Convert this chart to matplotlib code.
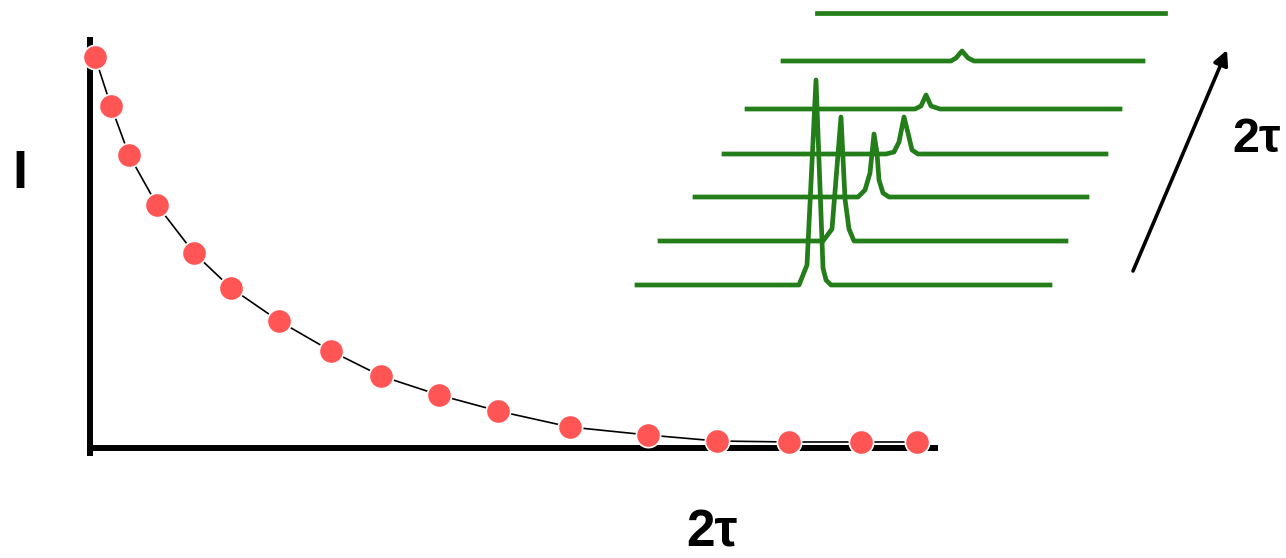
import matplotlib
matplotlib.use('Agg')
import matplotlib.pyplot as plt

# decay points (x = 2tau, y = intensity)
tau2 = [5, 21, 39, 67, 104, 141, 189, 241, 291, 349, 408, 480, 558, 627, 699, 771, 827]
intensity = [391, 342, 293, 243, 195, 160, 127, 97, 72, 53, 37, 21, 13, 7, 6, 6, 6]

# stacked spectra: baseline level of each trace, and the x / height points of each trace
spec_base = [10, 54, 98, 141, 186, 234, 282]
spec_x = [
    [637, 799, 807, 816, 823, 826, 831, 1050],
    [660, 823, 832, 841, 845, 849, 854, 1066],
    [695, 858, 865, 870, 874, 877, 879, 883, 889, 1087],
    [724, 886, 894, 899, 904, 908, 912, 918, 1106],
    [747, 915, 921, 926, 931, 940, 1120],
    [783, 951, 956, 962, 968, 974, 1143],
    [817, 1165],
]
spec_h = [
    [0, 0, 20, 205, 17, 5, 0, 0],
    [0, 0, 12, 124, 42, 12, 0, 0],
    [0, 0, 7, 24, 63, 44, 17, 4, 0, 0],
    [0, 0, 2, 12, 37, 21, 4, 0, 0],
    [0, 0, 3, 14, 3, 0, 0],
    [0, 0, 3, 10, 3, 0, 0],
    [0, 0],
]

W, H = 1286, 558
fig = plt.figure(figsize=(W / 100, H / 100), dpi=100)

# main decay plot
ax = fig.add_axes([90 / W, (H - 448) / H, 845 / W, 408 / H])
ax.plot(tau2, intensity, color='black', lw=1.2, zorder=2, clip_on=False)
ax.plot(tau2, intensity, 'o', color='#FF5555', markersize=17.5,
        markeredgecolor='white', markeredgewidth=1.2, zorder=3, clip_on=False)
ax.set_xlim(0, 845)
ax.set_ylim(0, 408)
for s in ['top', 'right']:
    ax.spines[s].set_visible(False)
ax.spines['left'].set_linewidth(4.3)
ax.spines['bottom'].set_linewidth(4.3)
ax.spines['left'].set_bounds(-5, 408)
ax.set_xticks([])
ax.set_yticks([])
ax.patch.set_visible(False)

# spectra inset
sx = fig.add_axes([630 / W, (H - 295) / H, 540 / W, 290 / H])
for base, xs, hs in zip(spec_base, spec_x, spec_h):
    sx.plot(xs, [base + h for h in hs], color='#237D19', lw=3.4,
            solid_joinstyle='round', clip_on=False)
sx.set_xlim(630, 1170)
sx.set_ylim(0, 290)
sx.axis('off')

# overlay for labels and arrow (pixel coords)
ov = fig.add_axes([0, 0, 1, 1])
ov.set_xlim(0, W)
ov.set_ylim(H, 0)
ov.axis('off')
ov.patch.set_visible(False)
font = dict(family=['Liberation Sans', 'DejaVu Sans'], fontweight='bold', color='black')
ov.text(20, 174, 'I', fontsize=39, ha='center', va='center', **font)
ov.text(712, 533, '2τ', fontsize=37, ha='center', va='center', **font)
ov.text(1257, 140, '2τ', fontsize=35, ha='center', va='center', **font)
ov.annotate('', xy=(1227, 50), xytext=(1133, 271),
            arrowprops=dict(arrowstyle='-|>', lw=2.6, color='black', mutation_scale=22,
                            shrinkA=0, shrinkB=0))

fig.savefig('out.png', dpi=100)
